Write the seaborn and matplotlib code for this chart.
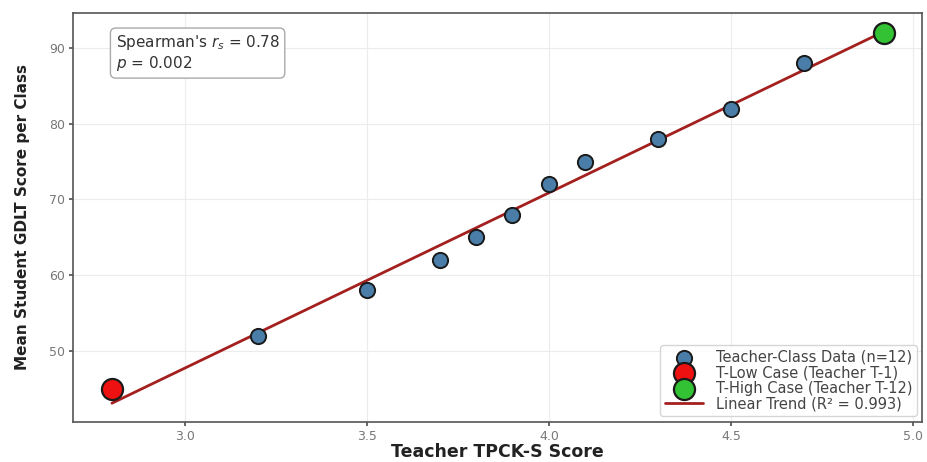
import numpy as np
import pandas as pd
import matplotlib
matplotlib.use("Agg")
import matplotlib.pyplot as plt
import seaborn as sns

# Teacher-class pairs: TPCK-S score vs. mean student GDLT score
tpck = [2.8, 3.2, 3.5, 3.7, 3.8, 3.9, 4.0, 4.1, 4.3, 4.5, 4.7, 4.92]
gdlt = [45, 52, 58, 62, 65, 68, 72, 75, 78, 82, 88, 92]
low_case = (2.8, 45)
high_case = (4.92, 92)

df = pd.DataFrame({"tpck": tpck, "gdlt": gdlt})

sns.set_theme(style="whitegrid")
plt.rcParams["font.family"] = ["DejaVu Sans"]

fig, ax = plt.subplots(figsize=(9.28, 4.62), dpi=100)
fig.subplots_adjust(left=0.079, right=0.994, top=0.972, bottom=0.087)

sns.scatterplot(data=df, x="tpck", y="gdlt", ax=ax, s=120, color="#4a7ea8",
                edgecolor="#1a1a1a", linewidth=1.4, zorder=3,
                label="Teacher-Class Data (n=12)")
ax.scatter([low_case[0]], [low_case[1]], s=230, color="#ee1111",
           edgecolor="#1a1a1a", linewidth=1.6, zorder=4,
           label="T-Low Case (Teacher T-1)")
ax.scatter([high_case[0]], [high_case[1]], s=230, color="#33c233",
           edgecolor="#1a1a1a", linewidth=1.6, zorder=4,
           label="T-High Case (Teacher T-12)")

# Least-squares trend across all classes
slope, intercept = np.polyfit(tpck, gdlt, 1)
xs = np.array([min(tpck), max(tpck)])
sns.lineplot(x=xs, y=slope * xs + intercept, ax=ax, color="#a3201f",
             linewidth=2, zorder=2, label="Linear Trend (R\u00b2 = 0.993)")

ax.set_xlabel("Teacher TPCK-S Score", fontsize=12.5, fontweight="bold",
              color="#222222", labelpad=0)
ax.set_ylabel("Mean Student GDLT Score per Class", fontsize=11,
              fontweight="bold", color="#222222", labelpad=14)
ax.set_xticks([3.0, 3.5, 4.0, 4.5, 5.0])
ax.set_yticks([50, 60, 70, 80, 90])
ax.tick_params(axis="both", labelsize=9, labelcolor="#777777", length=3,
               color="#555555", bottom=True, left=True, pad=3)
for sp in ax.spines.values():
    sp.set_color("#555555")
    sp.set_linewidth(1.2)
ax.grid(color="#ececec", linewidth=0.8)

ax.text(0.05, 0.95, "Spearman's $r_s$ = 0.78\n$p$ = 0.002", transform=ax.transAxes,
        fontsize=11, color="#333333", va="top", ha="left", linespacing=1.1,
        bbox=dict(boxstyle="round,pad=0.35", facecolor="white",
                  edgecolor="#aaaaaa", linewidth=1))

leg = ax.legend(loc="lower right", fontsize=10.5, frameon=True, borderpad=0.3,
                labelspacing=0.05, handlelength=2.6, handletextpad=0.9,
                markerscale=1.0, borderaxespad=0.4)
for t in leg.get_texts():
    t.set_color("#444444")

fig.savefig("out.png", dpi=100)
